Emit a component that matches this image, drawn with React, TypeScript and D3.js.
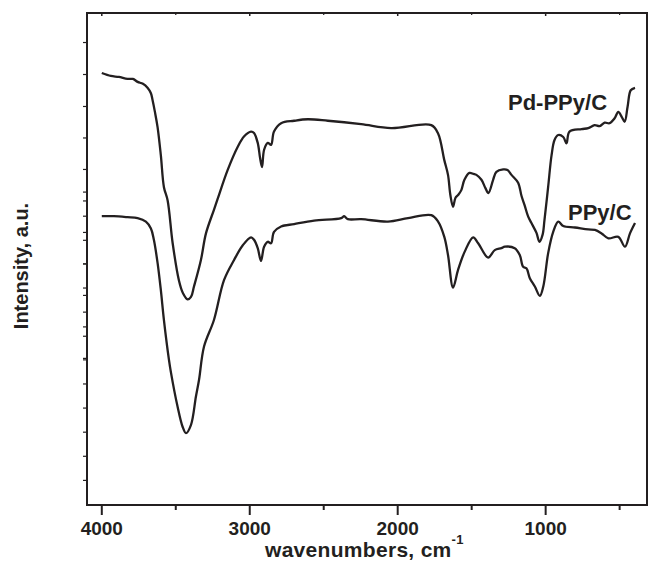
import React from "react";
import * as d3 from "d3";

// Pd-PPy/C spectrum (wavenumber, intensity a.u.)
const pdWave = [4000, 3939, 3885, 3826, 3790, 3758, 3722, 3691, 3668, 3657, 3641, 3623, 3601, 3580, 3555, 3521, 3479, 3452, 3420, 3397, 3377, 3330, 3296, 3242, 3217, 3149, 3081, 3039, 2991, 2971, 2946, 2930, 2917, 2903, 2878, 2856, 2836, 2788, 2700, 2607, 2472, 2247, 2044, 1773, 1727, 1685, 1660, 1644, 1626, 1610, 1592, 1570, 1549, 1515, 1488, 1468, 1434, 1407, 1387, 1355, 1333, 1287, 1258, 1231, 1186, 1163, 1143, 1118, 1096, 1062, 1042, 1021, 1008, 983, 960, 940, 915, 881, 859, 839, 757, 712, 669, 635, 601, 568, 534, 509, 486, 466, 446, 425, 396];
const pdInt = [87.8, 87.2, 87.0, 86.6, 86.6, 86.0, 85.6, 84.8, 83.7, 82.3, 79.9, 76.8, 71.1, 64.6, 61.9, 53.2, 45.7, 43.1, 41.8, 42.3, 44.4, 49.8, 55.2, 60.0, 62.2, 68.1, 72.8, 74.9, 75.9, 75.6, 73.6, 70.5, 68.7, 72.2, 73.6, 73.2, 75.9, 77.6, 78.1, 78.4, 78.1, 77.4, 76.6, 77.2, 75.5, 70.1, 67.1, 63.0, 60.6, 62.4, 63.0, 64.0, 66.1, 67.5, 67.3, 67.1, 66.1, 64.4, 63.4, 66.1, 67.7, 68.2, 68.1, 67.1, 65.5, 62.8, 61.0, 58.6, 57.3, 55.3, 53.5, 54.9, 57.9, 64.7, 71.1, 74.2, 75.2, 74.8, 73.5, 75.9, 76.4, 76.6, 77.2, 77.0, 77.7, 77.6, 78.6, 79.9, 78.9, 77.9, 81.0, 84.3, 84.8];

// PPy/C spectrum
const ppyWave = [4000, 3919, 3826, 3758, 3702, 3668, 3648, 3623, 3601, 3580, 3546, 3533, 3488, 3454, 3431, 3397, 3364, 3343, 3309, 3242, 3174, 3106, 3047, 2991, 2971, 2946, 2924, 2903, 2878, 2856, 2836, 2788, 2700, 2565, 2382, 2362, 2337, 2247, 2066, 1930, 1773, 1727, 1685, 1660, 1626, 1592, 1547, 1490, 1456, 1389, 1344, 1299, 1276, 1209, 1175, 1152, 1130, 1107, 1073, 1039, 1016, 983, 949, 915, 881, 802, 712, 667, 622, 576, 509, 464, 430, 396];
const ppyInt = [58.7, 58.7, 58.5, 58.3, 57.6, 56.2, 53.9, 49.2, 43.7, 37.6, 29.5, 27.0, 20.0, 15.9, 14.6, 16.3, 22.0, 25.4, 32.2, 37.6, 45.7, 49.8, 52.8, 54.4, 53.9, 52.2, 49.6, 52.5, 53.5, 53.2, 55.5, 56.6, 57.1, 57.8, 58.3, 58.7, 58.1, 58.1, 57.6, 58.3, 58.9, 57.6, 54.5, 50.8, 44.2, 47.8, 51.5, 54.4, 53.2, 50.3, 51.8, 52.2, 52.5, 52.2, 50.8, 48.4, 48.1, 46.1, 44.4, 42.5, 44.4, 51.2, 55.5, 57.6, 56.7, 56.4, 56.0, 55.9, 55.2, 54.2, 54.5, 52.5, 55.2, 57.3];

const xMajorTicks = [4000, 3000, 2000, 1000];
const xMinorTicks = [3500, 2500, 1500, 500];
const yTicksA = [94, 87.5, 81, 74.6, 68.2, 61.8, 55.4, 49, 42.6, 36.2, 29.8];
const yTicksB = [63.6, 58.7, 53.8, 49, 44.1, 39.2, 34.3, 29.5, 24.6, 19.7, 14.8, 9.9, 5];

const seriesLabels = ["Pd-PPy/C", "PPy/C"];
const xTitle = "wavenumbers, cm";
const yTitle = "Intensity, a.u.";

const W = 648;
const H = 573;
const L = 87, R = 647, T = 13, B = 505;
const INK = "#231f20";
const FONT = "'Liberation Sans', Arial, Helvetica, sans-serif";

export default function App() {
  const x = d3.scaleLinear().domain([4100, 315]).range([L, R]);
  const y = d3.scaleLinear().domain([0, 100]).range([B, T]);

  const line = d3
    .line<[number, number]>()
    .x((d) => x(d[0]))
    .y((d) => y(d[1]))
    .curve(d3.curveCatmullRom.alpha(0.5));

  const pdData = pdWave.map((w, i) => [w, pdInt[i]] as [number, number]);
  const ppyData = ppyWave.map((w, i) => [w, ppyInt[i]] as [number, number]);
  const yTicks = [...yTicksA, ...yTicksB];

  return (
    <svg
      width={W}
      height={H}
      style={{ position: "fixed", left: 0, top: 0, background: "#fff" }}
      fontFamily={FONT}
    >
      <rect x={0} y={0} width={W} height={H} fill="#fff" />
      {/* curves */}
      <path d={line(pdData) || ""} fill="none" stroke={INK} strokeWidth={2.3} strokeLinejoin="round" />
      <path d={line(ppyData) || ""} fill="none" stroke={INK} strokeWidth={2.3} strokeLinejoin="round" />

      {/* frame */}
      <rect x={L} y={T} width={R - L} height={B - T} fill="none" stroke={INK} strokeWidth={2} />

      {/* x ticks */}
      {xMajorTicks.map((t) => (
        <g key={"M" + t}>
          <line x1={x(t)} x2={x(t)} y1={B} y2={B + 10} stroke={INK} strokeWidth={2} />
          <line x1={x(t)} x2={x(t)} y1={T} y2={T + 3} stroke={INK} strokeWidth={1.5} />
          <text x={x(t)} y={535} textAnchor="middle" fontSize={19} fontWeight="bold" fill={INK}>
            {t}
          </text>
        </g>
      ))}
      {xMinorTicks.map((t) => (
        <g key={"m" + t}>
          <line x1={x(t)} x2={x(t)} y1={B} y2={B + 5} stroke={INK} strokeWidth={2} />
          <line x1={x(t)} x2={x(t)} y1={T} y2={T + 2} stroke={INK} strokeWidth={1.2} />
        </g>
      ))}

      {/* y ticks */}
      {yTicks.map((t, i) => (
        <g key={"y" + i}>
          <line x1={L - 4} x2={L} y1={y(t)} y2={y(t)} stroke={INK} strokeWidth={1.2} />
          <line x1={R} x2={R + 4} y1={y(t)} y2={y(t)} stroke={INK} strokeWidth={1.2} />
        </g>
      ))}

      {/* series labels */}
      <text x={508} y={110} fontSize={22} fontWeight="bold" fill={INK}>
        {seriesLabels[0]}
      </text>
      <text x={568} y={220} fontSize={22} fontWeight="bold" fill={INK}>
        {seriesLabels[1]}
      </text>

      {/* axis titles */}
      <text x={265} y={557} fontSize={21} fontWeight="bold" fill={INK} letterSpacing={0.3}>
        {xTitle}
        <tspan dy={-13} fontSize={13}>-1</tspan>
      </text>
      <text
        transform={`translate(28, 266) rotate(-90)`}
        textAnchor="middle"
        fontSize={20}
        fontWeight="bold"
        fill={INK}
      >
        {yTitle}
      </text>
    </svg>
  );
}
